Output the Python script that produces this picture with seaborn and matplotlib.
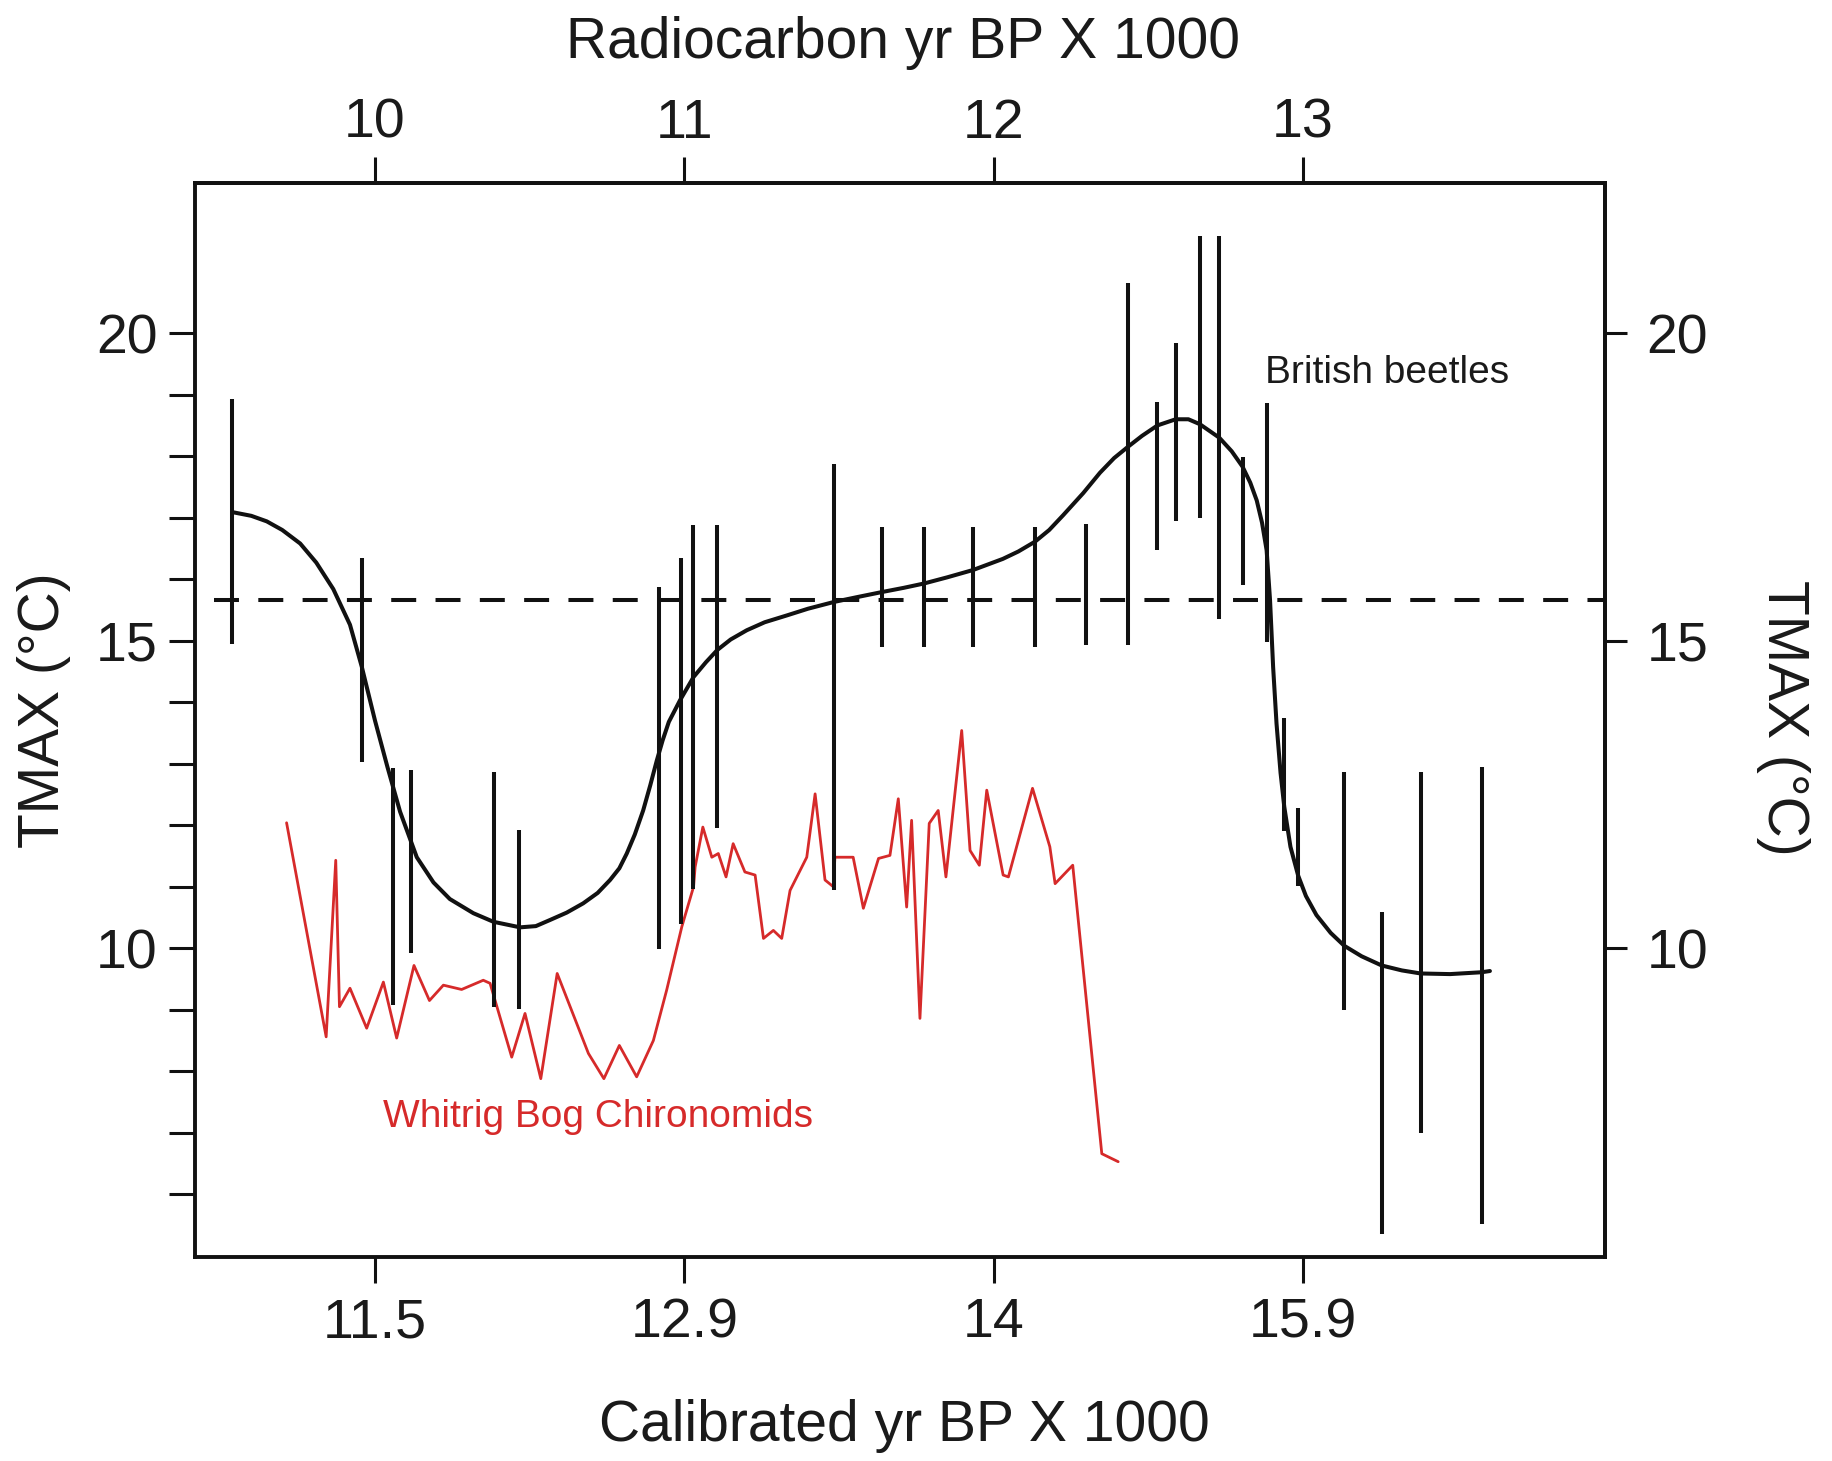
import numpy as np
import pandas as pd
import matplotlib
matplotlib.use("Agg")
import matplotlib.pyplot as plt
import seaborn as sns
from matplotlib.ticker import FixedLocator

# ---------------- data ----------------
# x positions are on the radiocarbon scale (yr BP x 1000)
radiocarbon_ticks = [10, 11, 12, 13]
calibrated_labels = ["11.5", "12.9", "14", "15.9"]
radiocarbon_labels = ["10", "11", "12", "13"]
tmax_ticks = [10, 15, 20]
tmax_minor = list(range(6, 20))

beetle_age = [9.539, 9.957, 10.059, 10.115, 10.385, 10.467, 10.919, 10.989, 11.029,
              11.107, 11.484, 11.638, 11.775, 11.934, 12.134, 12.298, 12.434, 12.53,
              12.589, 12.667, 12.73, 12.805, 12.883, 12.94, 12.985, 13.134, 13.255,
              13.381, 13.578]
beetle_low = [14.95, 13.03, 9.08, 9.93, 9.05, 9.01, 9.98, 10.40, 10.97,
              11.95, 10.94, 14.9, 14.9, 14.9, 14.9, 14.93, 14.93, 16.47,
              16.95, 16.99, 15.36, 15.90, 14.98, 11.9, 11.02, 8.99, 5.35,
              7.0, 5.51]
beetle_high = [18.93, 16.34, 12.93, 12.89, 12.86, 11.92, 15.87, 16.34, 16.88,
               16.88, 17.88, 16.85, 16.85, 16.85, 16.85, 16.9, 20.82, 18.88,
               19.84, 21.58, 21.58, 17.99, 18.86, 13.74, 12.28, 12.87, 10.59,
               12.87, 12.95]

curve_age = [9.539, 9.60, 9.65, 9.70, 9.758, 9.81, 9.865, 9.919, 9.957, 10.0,
             10.04, 10.081, 10.135, 10.189, 10.242, 10.318, 10.383, 10.469, 10.52,
             10.566, 10.62, 10.673, 10.72, 10.76, 10.79, 10.814, 10.84, 10.867,
             10.89, 10.911, 10.93, 10.95, 10.986, 11.03, 11.07, 11.107, 11.15,
             11.202, 11.26, 11.331, 11.40, 11.484, 11.56, 11.638, 11.71, 11.775,
             11.85, 11.934, 12.03, 12.08, 12.134, 12.18, 12.225, 12.29, 12.344, 12.39,
             12.434, 12.48, 12.53, 12.589, 12.63, 12.667, 12.73, 12.77, 12.805,
             12.83, 12.851, 12.868, 12.883, 12.894, 12.904, 12.915, 12.928, 12.94,
             12.96, 12.985, 13.01, 13.044, 13.09, 13.134, 13.19, 13.255, 13.32,
             13.381, 13.476, 13.578, 13.605]
curve_tmax = [17.09, 17.03, 16.94, 16.80, 16.58, 16.27, 15.84, 15.26, 14.58, 13.70,
              12.95, 12.22, 11.48, 11.07, 10.80, 10.57, 10.43, 10.34, 10.36,
              10.46, 10.58, 10.73, 10.90, 11.11, 11.30, 11.54, 11.85, 12.24,
              12.65, 13.05, 13.38, 13.68, 14.03, 14.41, 14.65, 14.85, 15.02,
              15.17, 15.30, 15.41, 15.52, 15.63, 15.71, 15.79, 15.86, 15.93,
              16.03, 16.15, 16.33, 16.45, 16.61, 16.80, 17.04, 17.40, 17.73, 17.97,
              18.15, 18.33, 18.50, 18.60, 18.60, 18.52, 18.30, 18.08, 17.83,
              17.57, 17.28, 16.92, 16.47, 15.66, 14.57, 13.65, 12.85, 12.30,
              11.65, 11.18, 10.85, 10.54, 10.25, 10.04, 9.87, 9.72, 9.64,
              9.59, 9.58, 9.61, 9.63]

chiro_age = [9.714, 9.842, 9.873, 9.885, 9.919, 9.973, 10.027, 10.07, 10.126, 10.176,
             10.221, 10.28, 10.35, 10.372, 10.442, 10.485, 10.536, 10.589, 10.69,
             10.74, 10.79, 10.846, 10.90, 10.943, 10.992, 11.03, 11.035, 11.06,
             11.089, 11.11, 11.135, 11.158, 11.196, 11.229, 11.256, 11.288, 11.315,
             11.342, 11.396, 11.423, 11.455, 11.482, 11.487, 11.546, 11.579, 11.628,
             11.665, 11.692, 11.719, 11.735, 11.762, 11.792, 11.821, 11.846, 11.897,
             11.924, 11.954, 11.978, 12.031, 12.048, 12.126, 12.182, 12.199, 12.256,
             12.35, 12.403]
chiro_tmax = [12.04, 8.56, 11.43, 9.05, 9.35, 8.70, 9.45, 8.54, 9.72, 9.15,
              9.40, 9.33, 9.48, 9.43, 8.23, 8.94, 7.88, 9.59, 8.29,
              7.88, 8.42, 7.91, 8.50, 9.32, 10.35, 11.0, 11.32, 11.97,
              11.48, 11.54, 11.16, 11.70, 11.24, 11.19, 10.16, 10.29, 10.16,
              10.94, 11.48, 12.51, 11.11, 11.0, 11.48, 11.48, 10.65, 11.46,
              11.51, 12.43, 10.67, 12.08, 8.86, 12.03, 12.24, 11.16, 13.54,
              11.59, 11.35, 12.57, 11.19, 11.16, 12.60, 11.65, 11.05, 11.35,
              6.66, 6.53]

threshold_tmax = 15.66
threshold_start = 9.48

# ---------------- style ----------------
sns.set_theme(style="white")
plt.rcParams['font.family'] = ['Liberation Sans', 'DejaVu Sans']

BLACK = "#111111"
RED = "#d62a2a"
TXT = "#1a1a1a"

fig = plt.figure(figsize=(18.33, 14.61), dpi=100)
ax = fig.add_axes([0.1064, 0.1396, 0.7692, 0.7351])

chiro_df = pd.DataFrame({"age": chiro_age, "tmax": chiro_tmax})
curve_df = pd.DataFrame({"age": curve_age, "tmax": curve_tmax})

sns.lineplot(data=chiro_df, x="age", y="tmax", ax=ax, color=RED, lw=2.0,
             sort=False, estimator=None)
sns.lineplot(data=curve_df, x="age", y="tmax", ax=ax, color=BLACK, lw=2.9,
             sort=False, estimator=None)
ax.vlines(beetle_age, beetle_low, beetle_high, colors=BLACK, lw=2.9)
ax.hlines(threshold_tmax, threshold_start, 13.977, colors=BLACK, lw=2.9,
          linestyles=(0, (6.2, 4.8)))

ax.set_xlim(9.418, 13.977)
ax.set_ylim(4.98, 22.44)
ax.set_xlabel("")
ax.set_ylabel("")

for s in ax.spines.values():
    s.set_visible(True)
    s.set_linewidth(2.8)
    s.set_color(BLACK)

ax.set_xticks(radiocarbon_ticks)
ax.set_xticklabels(calibrated_labels)
ax.set_yticks(tmax_ticks)
ax.yaxis.set_minor_locator(FixedLocator(tmax_minor))
ax.tick_params(axis='both', which='both', direction='out', length=19, width=2.2,
               color=BLACK, labelsize=40, labelcolor=TXT, pad=8,
               bottom=True, left=True, top=False, right=False)
ax.tick_params(axis='x', pad=10)

top = ax.secondary_xaxis('top')
top.set_xticks(radiocarbon_ticks)
top.set_xticklabels(radiocarbon_labels)
top.tick_params(direction='out', length=19, width=2.2, color=BLACK,
                labelsize=40, labelcolor=TXT, pad=5, top=True)
top.spines['top'].set_linewidth(2.8)

right = ax.secondary_yaxis('right')
right.set_yticks(tmax_ticks)
right.tick_params(direction='out', length=16, width=2.2, color=BLACK,
                  labelsize=40, labelcolor=TXT, pad=14, right=True)
right.spines['right'].set_linewidth(2.8)

ax.text(12.877, 19.19, "British beetles", fontsize=28, color=TXT,
        ha='left', va='baseline')
ax.text(10.026, 7.09, "Whitrig Bog Chironomids", fontsize=28, color=RED,
        ha='left', va='baseline')

fig.text(0.4925, 0.960, "Radiocarbon yr BP X 1000", fontsize=41, color=TXT,
         ha='center', va='baseline')
fig.text(0.4932, 0.0137, "Calibrated yr BP X 1000", fontsize=41, color=TXT,
         ha='center', va='baseline')
fig.text(0.024, 0.514, "TMAX (°C)", fontsize=41, color=TXT,
         ha='center', va='center', rotation=90)
fig.text(0.9727, 0.5086, "TMAX (°C)", fontsize=41, color=TXT,
         ha='center', va='center', rotation=270)

fig.savefig("out.png", dpi=100, facecolor="white")
